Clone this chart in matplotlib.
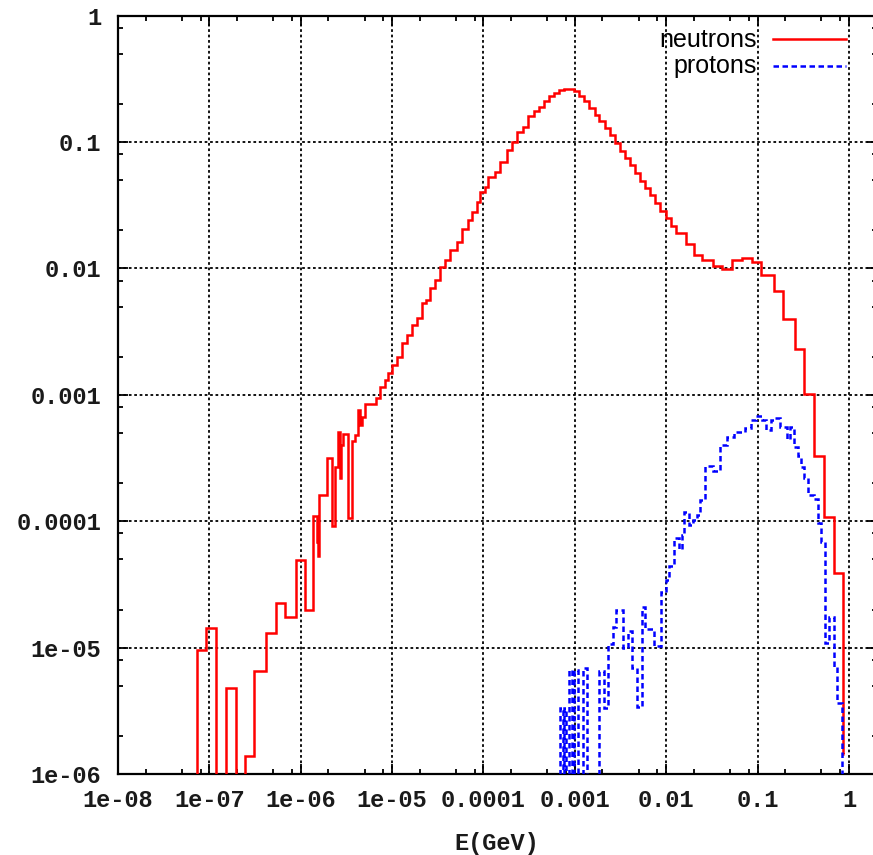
import numpy as np
import matplotlib
matplotlib.use("Agg")
import matplotlib.pyplot as plt
from matplotlib.ticker import LogLocator, FixedLocator, FixedFormatter, NullFormatter
from matplotlib.lines import Line2D

# -------------------------
# DATA
# -------------------------
# neutrons: bin edges in GeV and bin contents (0 = empty bin)
n_edges = [
    2.2e-8,
    7.26e-8, 9.2e-8, 1.17e-7, 1.52e-7, 1.95e-7, 2.45e-7, 3.08e-7, 4.16e-7, 5.31e-7, 6.71e-7,
    8.79e-7, 1.11e-6, 1.37e-6, 1.49e-6, 1.54e-6, 1.59e-6, 1.95e-6, 2.18e-6, 2.37e-6, 2.57e-6,
    2.69e-6, 2.79e-6, 2.92e-6, 3.31e-6, 3.61e-6, 3.92e-6, 4.26e-6, 4.45e-6, 4.63e-6, 5.03e-6,
    6.65e-6, 7.36e-6, 8.34e-6, 9.06e-6, 9.88e-6, 1.12e-5, 1.27e-5, 1.44e-5, 1.63e-5, 1.85e-5,
    2.10e-5, 2.34e-5, 2.59e-5, 2.94e-5, 3.33e-5, 3.78e-5, 4.28e-5, 5.08e-5, 5.75e-5, 6.81e-5,
    7.41e-5, 8.39e-5, 9.14e-5, 1.04e-4, 1.12e-4, 1.33e-4, 1.51e-4, 1.79e-4, 2.03e-4, 2.30e-4,
    2.72e-4,
    # finer binning around the peak
    3.10e-4, 3.53e-4, 4.02e-4, 4.56e-4, 5.18e-4, 5.89e-4, 6.70e-4, 7.60e-4, 8.65e-4, 9.82e-4,
    1.12e-3, 1.27e-3, 1.44e-3, 1.64e-3, 1.86e-3, 2.12e-3, 2.40e-3, 2.73e-3, 3.10e-3, 3.53e-3,
    4.02e-3, 4.56e-3, 5.18e-3, 5.89e-3, 6.70e-3, 7.60e-3, 8.65e-3, 9.82e-3, 1.12e-2, 1.27e-2,
    # high energy tail
    1.63e-2, 2.0e-2, 2.47e-2, 3.24e-2, 4.05e-2, 5.30e-2, 6.70e-2, 8.75e-2, 0.110, 0.152,
    0.190, 0.254, 0.318, 0.417, 0.537, 0.690, 0.867, 0.89,
]
n_values = [
    0,
    9.6e-6, 1.44e-5, 0, 4.8e-6, 0, 1.4e-6, 6.5e-6, 1.3e-5, 2.25e-5, 1.75e-5,
    4.9e-5, 2.0e-5, 1.1e-4, 6.9e-5, 5.3e-5, 1.6e-4, 3.15e-4, 9.2e-5, 2.7e-4, 5.1e-4,
    2.2e-4, 4.0e-4, 4.9e-4, 1.06e-4, 4.3e-4, 4.8e-4, 7.6e-4, 5.8e-4, 6.7e-4, 8.4e-4,
    9.4e-4, 1.16e-3, 1.31e-3, 1.49e-3, 1.72e-3, 2.0e-3, 2.55e-3, 2.97e-3, 3.56e-3, 4.03e-3,
    5.3e-3, 5.6e-3, 6.97e-3, 8.1e-3, 1.03e-2, 1.16e-2, 1.40e-2, 1.63e-2, 2.07e-2, 2.42e-2,
    2.81e-2, 3.37e-2, 4.05e-2, 4.43e-2, 5.3e-2, 5.8e-2, 6.98e-2, 8.65e-2, 0.100, 0.120,
    0.132,
    0.160, 0.175, 0.191, 0.210, 0.230, 0.244, 0.259, 0.264, 0.262, 0.252,
    0.230, 0.210, 0.186, 0.164, 0.146, 0.129, 0.114, 9.82e-2, 8.43e-2, 7.46e-2,
    6.62e-2, 5.69e-2, 4.89e-2, 4.34e-2, 3.84e-2, 3.30e-2, 2.84e-2, 2.51e-2, 2.16e-2,
    1.92e-2, 1.57e-2, 1.28e-2, 1.16e-2, 1.05e-2, 9.97e-3, 1.16e-2, 1.20e-2, 1.12e-2, 8.83e-3,
    6.65e-3, 3.98e-3, 2.32e-3, 1.02e-3, 3.27e-4, 1.09e-4, 3.88e-5, 1.45e-6,
]

# protons
p_edges = [
    5.0e-4,
    6.93e-4, 7.40e-4, 7.67e-4, 8.07e-4, 8.71e-4, 9.27e-4, 9.89e-4, 1.09e-3, 1.24e-3, 1.35e-3,
    1.85e-3, 2.07e-3, 2.30e-3, 2.61e-3, 2.84e-3, 3.37e-3, 3.78e-3, 4.26e-3, 4.76e-3, 5.41e-3,
    5.89e-3, 7.31e-3, 8.67e-3, 9.84e-3, 1.07e-2, 1.22e-2, 1.37e-2, 1.48e-2, 1.58e-2, 1.77e-2,
    1.95e-2, 2.16e-2, 2.33e-2, 2.63e-2, 3.24e-2, 3.85e-2, 4.60e-2, 5.50e-2, 7.24e-2, 8.43e-2,
    9.55e-2, 0.111, 0.123, 0.139, 0.154, 0.175, 0.208, 0.225, 0.249, 0.275,
    0.297, 0.320, 0.359, 0.412, 0.456, 0.498, 0.551, 0.608, 0.689, 0.748,
    0.849, 1.0,
]
p_values = [
    0,
    3.3e-6, 0, 3.3e-6, 0, 6.7e-6, 0, 6.7e-6, 0, 6.9e-6, 0,
    6.5e-6, 3.3e-6, 1.07e-5, 1.46e-5, 2.0e-5, 1.0e-5, 1.35e-5, 6.9e-6, 3.4e-6, 2.1e-5,
    1.4e-5, 1.03e-5, 2.75e-5, 3.43e-5, 4.42e-5, 7.4e-5, 6.0e-5, 7.8e-5, 1.18e-4, 9.3e-5,
    1.02e-4, 1.12e-4, 1.47e-4, 2.73e-4, 2.5e-4, 4.0e-4, 4.6e-4, 5.1e-4, 5.5e-4, 6.3e-4,
    6.8e-4, 6.3e-4, 5.3e-4, 6.3e-4, 6.5e-4, 5.6e-4, 4.5e-4, 5.6e-4, 3.9e-4, 3.3e-4,
    2.7e-4, 2.2e-4, 1.61e-4, 1.5e-4, 9.7e-5, 6.8e-5, 1.09e-5, 1.75e-5, 7.0e-6, 3.65e-6,
    0,
]

x_ticks = [1e-8, 1e-7, 1e-6, 1e-5, 1e-4, 1e-3, 1e-2, 1e-1, 1]
x_labels = ["1e-08", "1e-07", "1e-06", "1e-05", "0.0001", "0.001", "0.01", "0.1", "1"]
y_ticks = [1e-6, 1e-5, 1e-4, 1e-3, 1e-2, 1e-1, 1]
y_labels = ["1e-06", "1e-05", "0.0001", "0.001", "0.01", "0.1", "1"]

MONO = "Liberation Mono"
SANS = "Liberation Sans"


def empty_to_floor(vals):
    # empty bins drop below the axis on a log scale
    v = np.asarray(vals, dtype=float)
    return np.where(v > 0, v, 1e-12)


# -------------------------
# PLOT
# -------------------------
W, H = 873, 855
fig = plt.figure(figsize=(W / 100, H / 100), dpi=100)
ax = fig.add_axes([118 / W, (H - 774) / H, (876.5 - 118) / W, (774 - 15.7) / H])

ax.set_xscale("log")
ax.set_yscale("log")
ax.set_xlim(1e-8, 2)
ax.set_ylim(1e-6, 1)

ax.stairs(empty_to_floor(n_values), n_edges, baseline=None,
          color="#ff0000", lw=1.8, zorder=3)
ax.stairs(empty_to_floor(p_values), p_edges, baseline=None,
          color="#0000ff", lw=1.8, linestyle=(0, (2.2, 1.4)), zorder=3)

# ticks and grid
ax.xaxis.set_major_locator(FixedLocator(x_ticks))
ax.xaxis.set_major_formatter(FixedFormatter(x_labels))
ax.yaxis.set_major_locator(FixedLocator(y_ticks))
ax.yaxis.set_major_formatter(FixedFormatter(y_labels))
ax.xaxis.set_minor_locator(LogLocator(base=10, subs=[2, 5, 8], numticks=20))
ax.yaxis.set_minor_locator(LogLocator(base=10, subs=[2, 5, 8], numticks=20))
ax.xaxis.set_minor_formatter(NullFormatter())
ax.yaxis.set_minor_formatter(NullFormatter())

ax.tick_params(which="both", direction="in", top=True, right=True, width=1.3)
ax.tick_params(which="major", length=7)
ax.tick_params(which="minor", length=3.5)
ax.tick_params(axis="x", which="major", pad=11)
ax.tick_params(axis="y", which="major", pad=12)
for lab in ax.get_xticklabels() + ax.get_yticklabels():
    lab.set_fontfamily(MONO)
    lab.set_fontweight("bold")
    lab.set_fontsize(17)
    lab.set_color("#1a1a1a")

ax.grid(True, which="major", color="black", lw=1.3, linestyle=(0, (1.5, 1.5)), zorder=1)
for sp in ax.spines.values():
    sp.set_linewidth(1.6)

ax.set_xlabel("E(GeV)", fontfamily=MONO, fontweight="bold", fontsize=17,
              color="#1a1a1a", labelpad=14)

# legend, gnuplot style: text right aligned, sample line on the right
fig.text(757 / W, 1 - 40 / H, "neutrons", ha="right", va="center",
         fontfamily=SANS, fontsize=18)
fig.text(757 / W, 1 - 66 / H, "protons", ha="right", va="center",
         fontfamily=SANS, fontsize=18)
fig.add_artist(Line2D([773 / W, 846 / W], [1 - 39 / H, 1 - 39 / H],
                      color="#ff0000", lw=1.8))
fig.add_artist(Line2D([773 / W, 846 / W], [1 - 66 / H, 1 - 66 / H],
                      color="#0000ff", lw=1.8, linestyle=(0, (2.2, 1.4))))

fig.savefig("out.png", dpi=100)
